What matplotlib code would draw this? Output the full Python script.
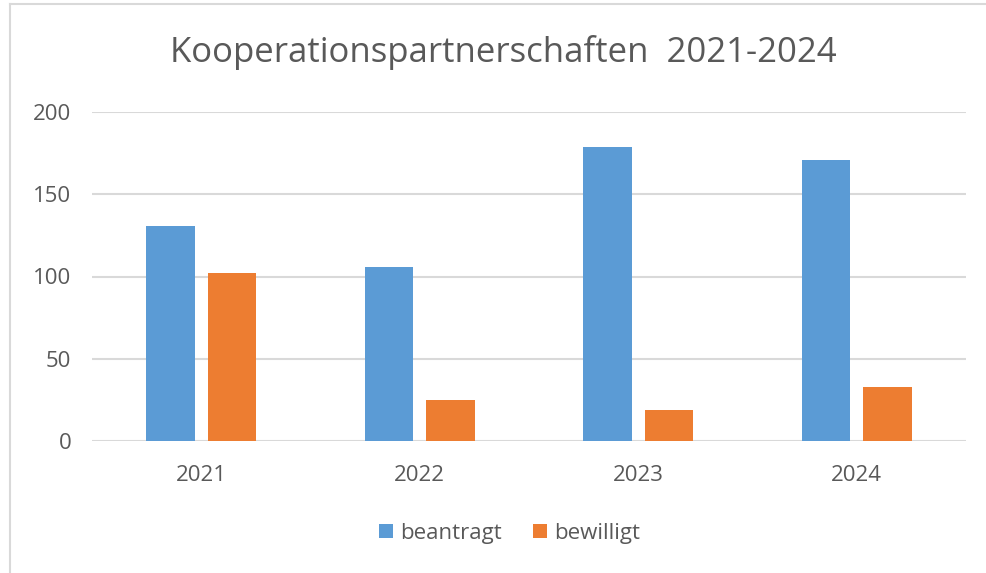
import matplotlib.pyplot as plt
import numpy as np
from matplotlib.lines import Line2D

plt.rcParams['font.family'] = ['Open Sans', 'DejaVu Sans']

years = ['2021', '2022', '2023', '2024']
beantragt = [131, 106, 179, 171]
bewilligt = [102, 25, 19, 33]

blue = '#5b9bd5'
orange = '#ed7d31'
grey_text = '#595959'

fig = plt.figure(figsize=(9.86, 5.73), dpi=100)
ax = fig.add_axes([92/986, 1-441/573, (966-92)/986, (441-112)/573])

x = np.arange(len(years))
w = 0.223
off = w/2 + 0.029
ax.bar(x - off, beantragt, w, color=blue, label='beantragt', zorder=3)
ax.bar(x + off, bewilligt, w, color=orange, label='bewilligt', zorder=3)

ax.set_xlim(-0.5, 3.5)
ax.set_ylim(0, 200)
ax.set_yticks([0, 50, 100, 150, 200])
ax.yaxis.grid(True, color='#d9d9d9', lw=1.5, zorder=0)
ax.set_xticks(x)
ax.set_xticklabels(years)
for s in ax.spines.values():
    s.set_visible(False)
ax.tick_params(length=0, colors=grey_text, labelsize=16)
ax.tick_params(axis='y', pad=15)
ax.tick_params(axis='x', pad=17)

fig.text(503/986, 1-52/573, 'Kooperationspartnerschaften  2021-2024',
         ha='center', va='center', fontsize=25, color=grey_text)

ax.legend(loc='center', bbox_to_anchor=(510/986, 1-533/573),
          bbox_transform=fig.transFigure, ncol=2, frameon=False,
          fontsize=16, labelcolor=grey_text, handlelength=0.6,
          handleheight=0.6, columnspacing=1.4, handletextpad=0.35)

# chart area border (top and left visible)
fig.add_artist(Line2D([10/986, 1], [1-4/573, 1-4/573], color='#d9d9d9', lw=1.5))
fig.add_artist(Line2D([10/986, 10/986], [0, 1-4/573], color='#d9d9d9', lw=1.5))

fig.savefig('out.png', dpi=100)
